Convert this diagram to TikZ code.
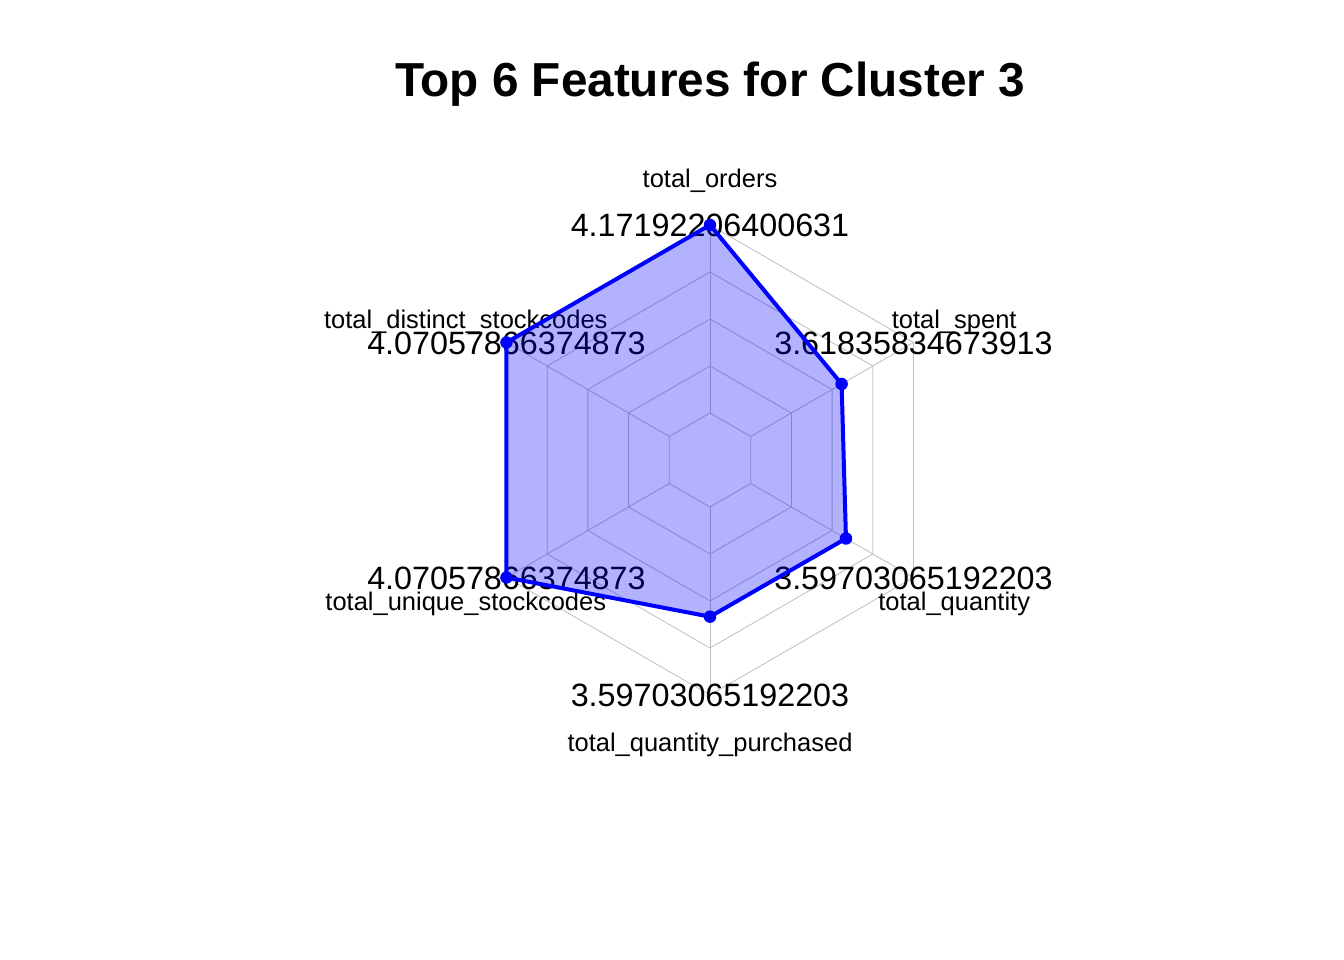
\documentclass[tikz,border=0pt]{standalone}
\usepackage{fontspec}
\setmainfont{Liberation Sans}
\definecolor{gridgrey}{RGB}{190,190,190}
\tikzset{
  ring/.style={draw=gridgrey, line width=0.8pt},
  spoke/.style={draw=gridgrey, line width=0.8pt},
  varlabel/.style={anchor=base, inner sep=0pt, yshift=-9.1pt, font=\fontsize{25.5}{30}\selectfont},
  vallabel/.style={anchor=base, inner sep=0pt, yshift=-11.6pt, font=\fontsize{32.3}{38}\selectfont},
  profile/.style={draw=blue, line width=4pt, line join=round},
  datadot/.style={circle, fill=blue, inner sep=0pt, minimum size=12.5pt}
}

\begin{document}
\begin{tikzpicture}[x=1pt, y=1pt]
	\useasboundingbox (-710,-500) rectangle (634,460);
	
	\node[anchor=base, inner sep=0pt, font=\bfseries\fontsize{47.7}{56}\selectfont] (title) at (0,363.3) {Top 6 Features for Cluster 3};
	
	% grid
	\foreach \k [evaluate=\k as \r using 47*\k] in {1,...,5}
		\draw[ring] (90:\r) -- (150:\r) -- (210:\r) -- (270:\r) -- (330:\r) -- (30:\r) -- cycle;
	\foreach \a in {90,150,210,270,330,30}
		\draw[spoke] (\a:47) -- (\a:235);
	
	% axis labels
	\node[varlabel] (lab-orders) at (90:282) {total\_orders};
	\node[varlabel] (lab-distinct) at (150:282) {total\_distinct\_stockcodes};
	\node[varlabel] (lab-unique) at (210:282) {total\_unique\_stockcodes};
	\node[varlabel] (lab-purchased) at (270:282) {total\_quantity\_purchased};
	\node[varlabel] (lab-quantity) at (330:282) {total\_quantity};
	\node[varlabel] (lab-spent) at (30:282) {total\_spent};
	
	% values
	\node[vallabel] (val-orders) at (90:235) {4.17192206400631};
	\node[vallabel] (val-distinct) at (150:235) {4.07057866374873};
	\node[vallabel] (val-unique) at (210:235) {4.07057866374873};
	\node[vallabel] (val-purchased) at (270:235) {3.59703065192203};
	\node[vallabel] (val-quantity) at (330:235) {3.59703065192203};
	\node[vallabel] (val-spent) at (30:235) {3.61835834673913};
	
	% cluster profile
	\coordinate (p-orders) at (90:235);
	\coordinate (p-distinct) at (150:235);
	\coordinate (p-unique) at (210:235);
	\coordinate (p-purchased) at (270:156.7);
	\coordinate (p-quantity) at (330:157);
	\coordinate (p-spent) at (30:152);
	
	\fill[blue, fill opacity=0.3] (p-orders) -- (p-distinct) -- (p-unique) -- (p-purchased) -- (p-quantity) -- (p-spent) -- cycle;
	\draw[profile] (p-orders) -- (p-distinct) -- (p-unique) -- (p-purchased) -- (p-quantity) -- (p-spent) -- cycle;
	\foreach \p in {orders,distinct,unique,purchased,quantity,spent}
		\node[datadot] (d-\p) at (p-\p) {};
	
\end{tikzpicture}
\end{document}
